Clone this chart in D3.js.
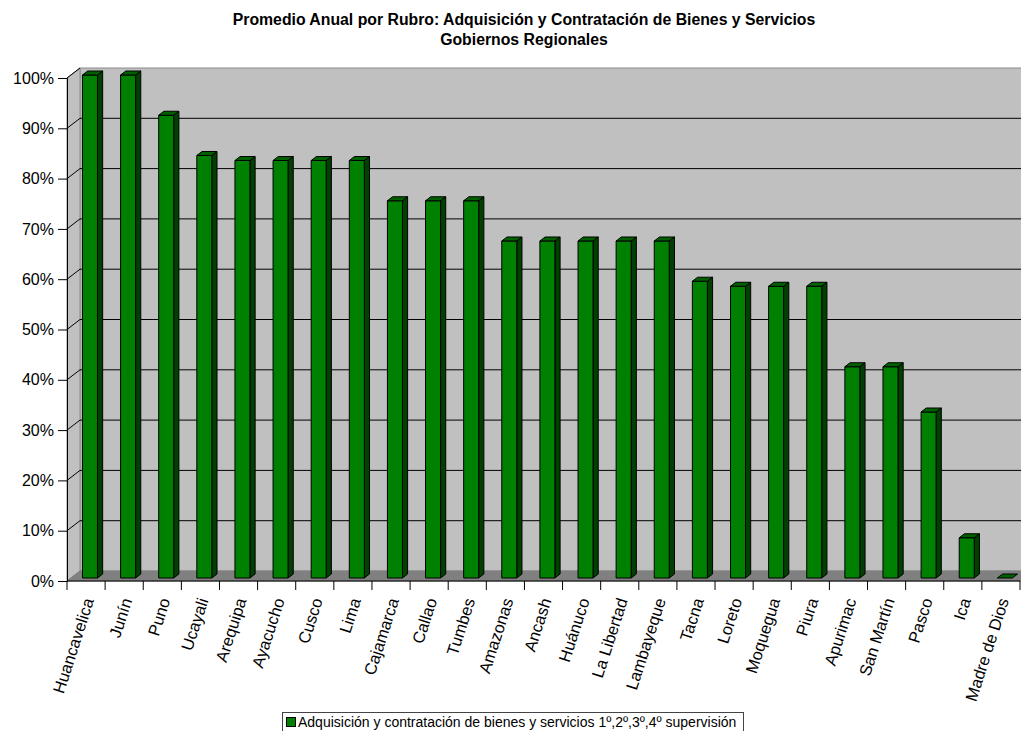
<!DOCTYPE html>
<html><head><meta charset="utf-8">
<script src="https://cdn.jsdelivr.net/npm/d3@7"></script>
<style>body{margin:0;background:#fff}svg{display:block}</style>
</head><body>
<svg id="c" width="1021" height="731"></svg>
<script>
const categories = ["Huancavelica","Junín","Puno","Ucayali","Arequipa","Ayacucho","Cusco","Lima","Cajamarca","Callao","Tumbes","Amazonas","Ancash","Huánuco","La Libertad","Lambayeque","Tacna","Loreto","Moquegua","Piura","Apurimac","San Martín","Pasco","Ica","Madre de Dios"];
const values = [1.00,1.00,0.92,0.84,0.83,0.83,0.83,0.83,0.75,0.75,0.75,0.67,0.67,0.67,0.67,0.67,0.59,0.58,0.58,0.58,0.42,0.42,0.33,0.08,0.00];
const yTicks = [0,0.1,0.2,0.3,0.4,0.5,0.6,0.7,0.8,0.9,1.0];
const titleLines = ["Promedio Anual por Rubro: Adquisición y Contratación de Bienes y Servicios","Gobiernos Regionales"];
const legendLabel = "Adquisición y contratación de bienes y servicios 1º,2º,3º,4º supervisión";

(function(){
const svg = d3.select("#c");
const font = "'Liberation Sans', Arial, sans-serif";
const pL = 67, pR = 1020, pT = 78, pB = 581;
const DX = 13, DY = -10;
const x = d3.scaleBand().domain(categories).range([pL, pR]).padding(0);
const y = d3.scaleLinear().domain([0, 1]).range([pB, pT]);
const bw = x.bandwidth();
const barW = 15;
const f0 = 0.3, f1 = 0.7;

// back wall
svg.append("rect").attr("x", pL + DX).attr("y", pT + DY).attr("width", 1100).attr("height", pB - pT)
  .attr("fill", "#c0c0c0").attr("stroke", "#8c8c8c").attr("stroke-width", 1);
// left wall
svg.append("path").attr("d", `M${pL},${pT}L${pL+DX},${pT+DY}L${pL+DX},${pB+DY}L${pL},${pB}Z`)
  .attr("fill", "#c0c0c0").attr("stroke", "#8c8c8c");
// floor
svg.append("path").attr("d", `M${pL},${pB}L${pL+DX},${pB+DY}L${pR+DX+20},${pB+DY}L${pR+20},${pB}Z`)
  .attr("fill", "#808080").attr("stroke", "#808080");

// gridlines
yTicks.forEach(t => {
  if (t > 0 && t < 1) {
    svg.append("line").attr("x1", pL + DX).attr("x2", 1100).attr("y1", y(t) + DY).attr("y2", y(t) + DY)
      .attr("stroke", "#000").attr("stroke-width", 1);
  }
  if (t > 0) {
    svg.append("line").attr("x1", pL).attr("y1", y(t)).attr("x2", pL + DX).attr("y2", y(t) + DY)
      .attr("stroke", "#000").attr("stroke-width", 1);
  }
});

// y axis
const yAxis = d3.axisLeft(y).tickValues(yTicks).tickFormat(d3.format(".0%")).tickSize(9).tickPadding(4);
const ya = svg.append("g").attr("transform", `translate(${pL},0)`).call(yAxis);
ya.select(".domain").attr("stroke", "#000");
ya.selectAll("text").attr("font-family", font).attr("font-size", 16).attr("fill", "#000");

// x axis
const xAxis = d3.axisBottom(x).tickSize(9).tickFormat("");
const xa = svg.append("g").attr("transform", `translate(0,${pB})`).call(xAxis);
xa.select(".domain").remove();
xa.selectAll(".tick line").attr("transform", `translate(${-bw/2},0)`);
svg.append("line").attr("x1", pL).attr("x2", pR).attr("y1", pB).attr("y2", pB).attr("stroke", "#000");
svg.append("line").attr("x1", pR).attr("x2", pR).attr("y1", pB).attr("y2", pB + 9).attr("stroke", "#000");

// x labels
svg.append("g").selectAll("text").data(categories).join("text")
  .attr("transform", d => `translate(${x(d) + bw/2 + 4},${pB + 18}) rotate(-72)`)
  .attr("text-anchor", "end").attr("dominant-baseline", "middle")
  .attr("font-family", font).attr("font-size", 16.5).attr("fill", "#000").text(d => d);

// bars
const bars = svg.append("g");
categories.forEach((c, i) => {
  const v = values[i];
  const bx = x(c) + (bw - barW) / 2;
  const ax = DX * f0, ay = DY * f0, bx2 = DX * f1, by2 = DY * f1;
  const yt = y(v), yb = y(0);
  const g = bars.append("g").attr("stroke", "#000").attr("stroke-width", 1).attr("stroke-linejoin", "round");
  if (v > 0) {
    g.append("path").attr("d", `M${bx+barW+ax},${yt+ay}L${bx+barW+bx2},${yt+by2}L${bx+barW+bx2},${yb+by2}L${bx+barW+ax},${yb+ay}Z`)
      .attr("fill", "#004000");
    g.append("rect").attr("x", bx + ax).attr("y", yt + ay).attr("width", barW).attr("height", yb - yt)
      .attr("fill", "#008000");
  }
  g.append("path").attr("d", `M${bx+ax},${yt+ay}L${bx+bx2},${yt+by2}L${bx+barW+bx2},${yt+by2}L${bx+barW+ax},${yt+ay}Z`)
    .attr("fill", "#006000");
});

// title
svg.append("g").selectAll("text").data(titleLines).join("text")
  .attr("x", 524).attr("y", (d, i) => 25 + i * 20)
  .attr("text-anchor", "middle").attr("font-family", font).attr("font-weight", "bold")
  .attr("font-size", 15.8).attr("fill", "#000").text(d => d);

// legend
const lg = svg.append("g");
lg.append("rect").attr("x", 282.5).attr("y", 712.5).attr("width", 461).attr("height", 26)
  .attr("fill", "#fff").attr("stroke", "#444");
lg.append("rect").attr("x", 286.5).attr("y", 717.5).attr("width", 9).attr("height", 9)
  .attr("fill", "#008000").attr("stroke", "#000");
lg.append("text").attr("x", 298).attr("y", 727).attr("font-family", font).attr("font-size", 14)
  .attr("fill", "#000").text(legendLabel);
})();
</script>
</body></html>
